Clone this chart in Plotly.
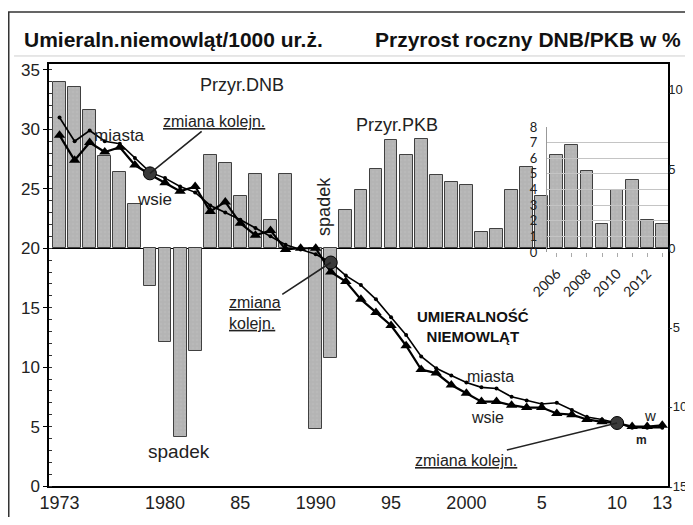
import plotly.graph_objects as go

# data
years = list(range(1973, 2014))
gdp_growth = [10.5, 10.2, 8.7, 5.8, 4.8, 2.8, -2.4, -5.9, -11.9, -6.5,
              5.9, 5.4, 3.3, 4.7, 1.8, 4.7, None, -11.4, -6.9, 2.4,
              3.7, 5.0, 6.8, 5.9, 6.9, 4.6, 4.2, 4.0, 1.0, 1.2,
              3.7, 5.1, 3.3, 5.9, 6.5, 4.9, 1.5, 3.7, 4.3, 1.8, 1.5]
mort_miasta = [31.0, 29.0, 29.9, 29.0, 28.8, 27.6, 26.4, 25.9, 25.2, 24.7,
               23.6, 23.0, 22.4, 21.7, 21.0, 20.3, 19.9, 19.5, 18.8, 17.7,
               16.9, 15.7, 14.2, 12.7, 10.9, 9.9, 9.3, 8.7, 8.3, 8.2,
               7.5, 7.2, 6.9, 7.0, 6.4, 5.8, 5.6, 5.3, 4.9, 4.9, 4.9]
mort_wsie = [29.5, 27.4, 28.9, 28.1, 28.5, 27.0, 26.2, 25.5, 24.8, 25.2,
             23.1, 23.9, 22.1, 21.1, 21.5, 19.9, 20.0, 20.0, 18.0, 17.2,
             15.7, 14.6, 13.5, 11.8, 9.8, 9.5, 8.5, 7.8, 7.1, 7.1,
             6.8, 6.6, 6.6, 6.1, 6.0, 5.6, 5.4, 5.3, 5.0, 5.0, 5.1]
zmiana_years = [1979, 1991, 2010]
zmiana_vals = [26.3, 18.8, 5.3]

x_tickvals = [1973, 1980, 1985, 1990, 1995, 2000, 2005, 2010, 2013]
x_ticktext = ['1973', '1980', '85', '1990', '95', '2000', '5', '10', '13']
left_ticks = [0, 5, 10, 15, 20, 25, 30, 35]
right_ticks = [-15, -10, -5, 0, 5, 10]
inset_years = [2006, 2007, 2008, 2009, 2010, 2011, 2012, 2013]
inset_labels = ['2006', '', '2008', '', '2010', '', '2012', '']
inset_y = [0, 1, 2, 3, 4, 5, 6, 7, 8]

FONT = 'Liberation Sans'

fig = go.Figure()

fig.add_trace(go.Bar(x=years, y=gdp_growth, yaxis='y', width=0.85,
                     marker=dict(color='#b9b9b9',
                                 line=dict(color='#404040', width=1),
                                 pattern=dict(shape='+', size=4, solidity=0.15,
                                              fgcolor='#8c8c8c')),
                     hoverinfo='skip'))

fig.add_trace(go.Scatter(x=years, y=mort_miasta, yaxis='y2', mode='lines+markers',
                         line=dict(color='black', width=1.6),
                         marker=dict(size=4, color='black')))
fig.add_trace(go.Scatter(x=years, y=mort_wsie, yaxis='y2', mode='lines+markers',
                         line=dict(color='black', width=2.2),
                         marker=dict(symbol='triangle-up', size=10, color='black')))
fig.add_trace(go.Scatter(x=zmiana_years, y=zmiana_vals, yaxis='y2', mode='markers',
                         marker=dict(size=13, color='#3a3a3a',
                                     line=dict(color='black', width=1))))

# invisible trace so the inset axes get drawn
fig.add_trace(go.Scatter(x=inset_years, y=[inset_y[0]] * len(inset_years),
                         xaxis='x3', yaxis='y3', mode='lines',
                         line=dict(width=0), hoverinfo='skip'))

# page body adds 8px on each side, so keep the figure inside the window
fig.update_layout(
    width=685, height=509, autosize=False,
    margin=dict(l=41, r=25, t=56, b=31, autoexpand=False),
    paper_bgcolor='white', plot_bgcolor='rgba(0,0,0,0)',
    showlegend=False,
    font=dict(family=FONT, color='#1a1a1a'),
    bargap=0,
    xaxis=dict(range=[1972.3, 2013.38], tickvals=x_tickvals, ticktext=x_ticktext,
               showgrid=False, zeroline=False, showline=True, mirror=True,
               linecolor='black', linewidth=1.5, ticks='', automargin=False,
               tickfont=dict(family=FONT, size=18, color='#222')),
    yaxis=dict(side='right', range=[-15, 11.625], tickvals=right_ticks,
               ticktext=[str(v) for v in right_ticks], automargin=False,
               showgrid=False, zeroline=True, zerolinecolor='black', zerolinewidth=1.2,
               showline=True, linecolor='black', linewidth=1.5,
               ticks='', ticklabelstandoff=-4,
               tickfont=dict(family=FONT, size=13, color='#222')),
    yaxis2=dict(side='left', overlaying='y', range=[0, 35.5], tickvals=left_ticks,
                showgrid=False, zeroline=False, showline=True, automargin=False,
                linecolor='black', linewidth=1.5,
                ticks='outside', ticklen=4, tickcolor='black',
                minor=dict(ticks='inside', dtick=1, ticklen=3, tickcolor='#333'),
                tickfont=dict(family=FONT, size=17, color='#222')),
    # inset axis pasted in the upper right
    xaxis3=dict(domain=[0.8045, 1], anchor='y3', range=[2005.345, 2013.38],
                tickvals=inset_years, ticktext=inset_labels, tickangle=-45,
                showgrid=False, zeroline=False, showline=False, automargin=False,
                ticks='outside', ticklen=4, tickcolor='#aaa', ticklabelstandoff=3,
                tickfont=dict(family='Lato', size=14, color='#222')),
    yaxis3=dict(domain=[0.5545, 0.8507], anchor='x3', range=[0, 8], tickvals=inset_y,
                showgrid=True, gridcolor='#c4c4c4', gridwidth=1, automargin=False,
                zeroline=False, showline=True, linecolor='#999', ticks='',
                ticklabelstandoff=6,
                tickfont=dict(family='Lato', size=13, color='#222')),
)

# frame and title rule
fig.add_shape(type='rect', xref='paper', yref='paper', x0=-0.065, x1=1.06,
              y0=-0.14, y1=1.1232, line=dict(color='#333', width=1.5))
fig.add_shape(type='line', xref='paper', yref='paper', x0=-0.0565, x1=1.06,
              y0=1.019, y1=1.019, line=dict(color='#cfcfcf', width=1))

fig.add_annotation(text='Umieraln.niemowląt/1000 ur.ż.', xref='paper', yref='paper',
                   x=-0.0436, y=1.0569, xanchor='left', yanchor='middle', showarrow=False,
                   font=dict(family=FONT, size=21, weight='bold', color='#111'))
fig.add_annotation(text='Przyrost roczny DNB/PKB w %', xref='paper', yref='paper',
                   x=1.025, y=1.0569, xanchor='right', yanchor='middle', showarrow=False,
                   font=dict(family=FONT, size=21, weight='bold', color='#111'))

def label(txt, x, y, size=17, **kw):
    fig.add_annotation(text=txt, x=x, y=y, xref='x', yref='y2', showarrow=False,
                       font=dict(family=FONT, size=size, color='#222'), **kw)

label('Przyr.DNB', 1985.1, 33.7, 18)
label('Przyr.PKB', 1995.4, 30.4, 18)
label('miasta', 1977.0, 29.5, 17)
label('wsie', 1979.3, 24.1, 17)
label('spadek', 1990.5, 23.5, 18, textangle=-90)
label('spadek', 1980.9, 2.9, 19)
label('miasta', 2001.6, 9.2, 16)
label('wsie', 2001.4, 5.8, 16)
label('w', 2012.2, 5.9, 15)
label('<b>m</b>', 2011.65, 3.9, 12)
fig.add_annotation(text='<b>UMIERALNOŚĆ<br>NIEMOWLĄT</b>', x=2000.45, y=13.4,
                   xref='x', yref='y2', showarrow=False,
                   font=dict(family=FONT, size=15, color='#111'))

# "zmiana kolejn." callouts pointing at the order-change points
callouts = [('zmiana kolejn.', 64, -52, 'center'),
            ('zmiana<br>kolejn.', -76, 50, 'left'),
            ('zmiana kolejn.', -151, 37, 'center')]
for (txt, ax, ay, al), xv, yv in zip(callouts, zmiana_years, zmiana_vals):
    fig.add_annotation(text=txt, x=xv, y=yv, xref='x', yref='y2', ax=ax, ay=ay,
                       showarrow=True, arrowhead=0, arrowwidth=1.6, arrowcolor='#222',
                       align=al,
                       font=dict(family=FONT, size=16, color='#222', lineposition='under'))

fig.write_html('out.html')
